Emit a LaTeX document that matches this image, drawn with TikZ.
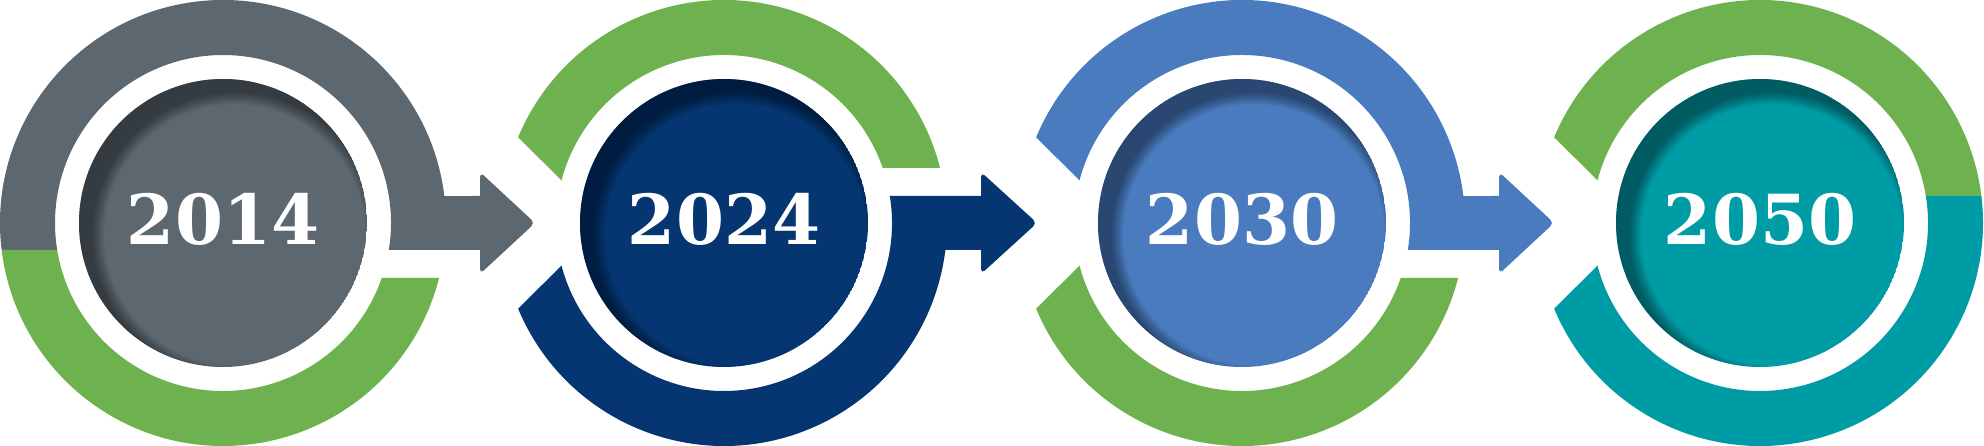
\documentclass[tikz,border=0pt]{standalone}
\usepackage{fontspec}
\usetikzlibrary{calc}
\newfontfamily\yearfont{DejaVu Serif}
\definecolor{cgrey}{RGB}{93,103,112}
\definecolor{cgreen}{RGB}{110,178,80}
\definecolor{cnavy}{RGB}{6,54,113}
\definecolor{cblue}{RGB}{73,123,190}
\definecolor{cteal}{RGB}{0,156,166}

\begin{document}
\begin{tikzpicture}[x=1pt,y=1pt,
  yearlabel/.style={text=white,font=\yearfont\bfseries\fontsize{69}{69}\selectfont,inner sep=0pt,anchor=base}]
 \useasboundingbox (0,-223) rectangle (1984,223); %枠
 \coordinate (c1) at (223,0); %中心1
 \coordinate (c2) at (724,0); %中心2
 \coordinate (c3) at (1242,0); %中心3
 \coordinate (c4) at (1760,0); %中心4

 \begin{scope}[shift={(c1)}]
  \fill[cgrey] (186.95:223) arc[start angle=186.95,end angle=6.95,radius=223]
    -- (257,27) [rounded corners=5pt] -- (257,51) -- (312,0) -- (257,-51) [sharp corners] -- (257,-27)
    -- (-9.25:168) arc[start angle=-9.25,end angle=189.25,radius=168] -- cycle; %上+矢印
  \fill[cgreen] (186.95:223) arc[start angle=186.95,end angle=345.72,radius=223]
    -- (340.89:168) arc[start angle=340.89,end angle=189.25,radius=168] -- cycle; %下
 \end{scope}

 \begin{scope}[shift={(c2)}]
  \fill[cgreen] (157.4:223) arc[start angle=157.4,end angle=14.28,radius=223]
    -- (19.11:168) arc[start angle=19.11,end angle=165.3,radius=168] -- cycle; %上
  \fill[cnavy] (202.6:223) arc[start angle=202.6,end angle=353.05,radius=223]
    -- (257,-27) [rounded corners=5pt] -- (257,-51) -- (313,0) -- (257,51) [sharp corners] -- (257,27)
    -- (9.25:168) arc[start angle=9.25,end angle=-165.3,radius=168] -- cycle; %下+矢印
 \end{scope}

 \begin{scope}[shift={(c3)}]
  \fill[cblue] (157.4:223) arc[start angle=157.4,end angle=6.95,radius=223]
    -- (257,27) [rounded corners=5pt] -- (257,51) -- (312,0) -- (257,-51) [sharp corners] -- (257,-27)
    -- (-9.25:168) arc[start angle=-9.25,end angle=165.3,radius=168] -- cycle; %上+矢印
  \fill[cgreen] (202.6:223) arc[start angle=202.6,end angle=345.72,radius=223]
    -- (340.89:168) arc[start angle=340.89,end angle=194.7,radius=168] -- cycle; %下
 \end{scope}

 \begin{scope}[shift={(c4)}]
  \fill[cgreen] (157.4:223) arc[start angle=157.4,end angle=6.95,radius=223]
    -- (9.25:168) arc[start angle=9.25,end angle=165.3,radius=168] -- cycle; %上
  \fill[cteal] (202.6:223) arc[start angle=202.6,end angle=366.95,radius=223]
    -- (369.25:168) arc[start angle=369.25,end angle=194.7,radius=168] -- cycle; %下
 \end{scope}

 \foreach \c/\col/\yr in {c1/cgrey/2014,c2/cnavy/2024,c3/cblue/2030,c4/cteal/2050}{
  \begin{scope}[shift={(\c)}]
   \clip (0,0) circle (144);
   \fill[\col] (0,0) circle (144); %円盤
   \foreach \k in {1,...,12}
     \draw[black,opacity=0.04,line width=30+1.1*\k] (12,-12) circle ({(318-1.1*\k)/2}); %影
  \end{scope}
  \node[yearlabel] (y\yr) at ($(\c)+(0,-22)$) {\yr}; %年
 }
\end{tikzpicture}
\end{document}
